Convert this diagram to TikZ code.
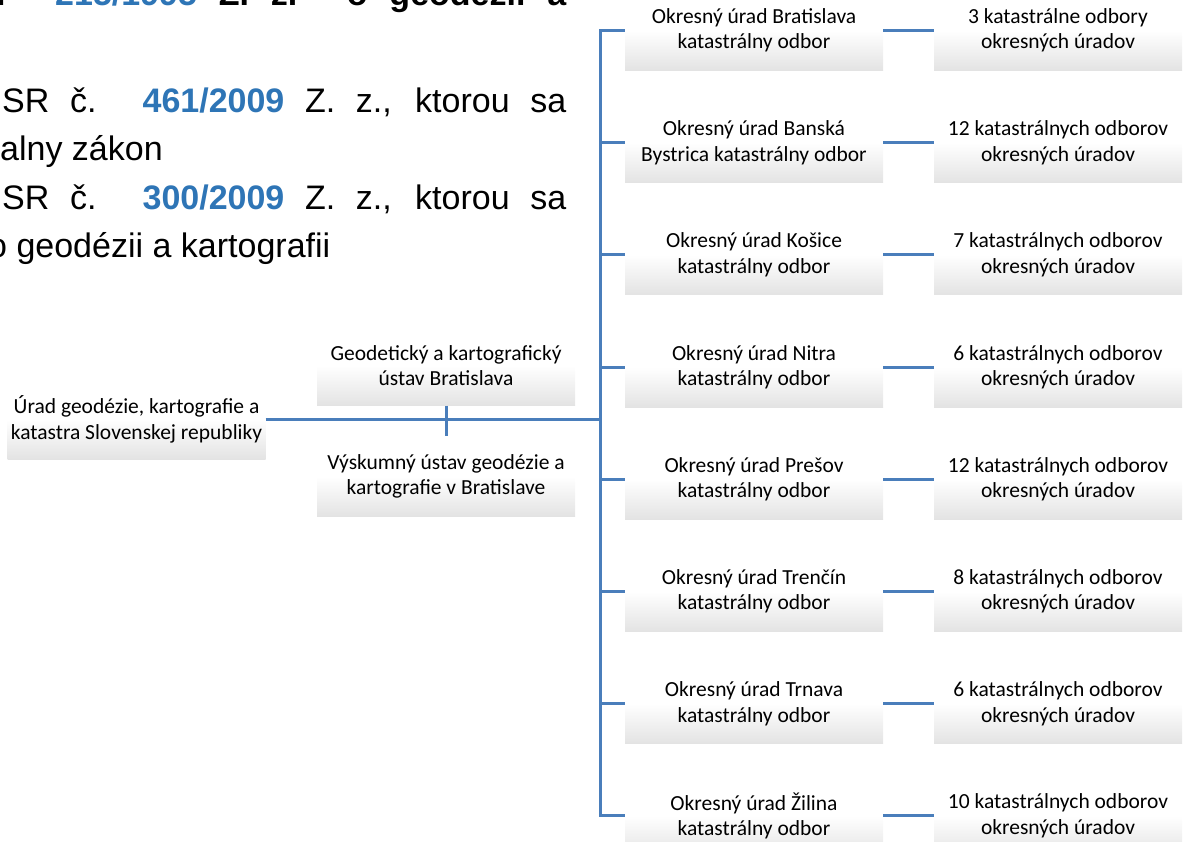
\documentclass[tikz,border=0pt]{standalone}
\usepackage{fontspec}
\setmainfont{Carlito}
\newfontfamily\lawfont{Liberation Sans}
\usepackage{tikz}
\usetikzlibrary{positioning}
\definecolor{linkblue}{RGB}{74,126,187}
\definecolor{numblue}{RGB}{46,117,182}
\newcommand{\lawnum}[1]{\textbf{\textcolor{numblue}{#1}}}

\begin{document}
\begin{tikzpicture}[x=1pt, y=-1pt]
  \tikzset{office/.style={minimum width=258pt, minimum height=80pt, inner sep=0pt, align=center,
      font=\fontsize{21.5}{25.5}\selectfont, top color=white, bottom color=gray!22, middle color=white},
    branch/.style={office, minimum width=248pt},
    link/.style={draw=linkblue, line width=3pt},
    law/.style={anchor=base west, inner sep=0pt, font=\lawfont\fontsize{34}{40}\selectfont}}

  \useasboundingbox (0,0) rectangle (1183,842);

  %--- text of the slide behind the chart ---
  \node[law, font=\lawfont\bfseries\fontsize{34}{40}\selectfont] (lawa) at (-23,6)
    {\makebox[589pt][s]{č. \lawnum{215/1995} Z. z. o geodézii a}};
  \node[law] (lawb) at (2,113) {\makebox[564pt][s]{SR č. \lawnum{461/2009} Z. z., ktorou sa}};
  \node[law] (lawc) at (0,161) {alny zákon};
  \node[law] (lawd) at (2,210) {\makebox[564pt][s]{SR č. \lawnum{300/2009} Z. z., ktorou sa}};
  \node[law] (lawe) at (-12,258) {o geodézii a kartografii};

  %--- head office and institutes ---
  \node[office] (ugkk) at (136.5,419.5) {Úrad geodézie, kartografie a\\katastra Slovenskej republiky};
  \node[office] (gku)  at (446,365.5)   {Geodetický a kartografický\\ústav Bratislava};
  \node[office] (vugk) at (446,476.5)   {Výskumný ústav geodézie a\\kartografie v Bratislave};

  %--- district offices ---
  \node[office] (ba) at (754,30.5)  {Okresný úrad Bratislava\\katastrálny odbor};
  \node[office] (bb) at (754,142.7) {Okresný úrad Banská\\Bystrica katastrálny odbor};
  \node[office] (ke) at (754,254.9) {Okresný úrad Košice\\katastrálny odbor};
  \node[office] (nr) at (754,367.1) {Okresný úrad Nitra\\katastrálny odbor};
  \node[office] (po) at (754,479.3) {Okresný úrad Prešov\\katastrálny odbor};
  \node[office] (tn) at (754,591.5) {Okresný úrad Trenčín\\katastrálny odbor};
  \node[office] (tt) at (754,703.7) {Okresný úrad Trnava\\katastrálny odbor};
  \node[office] (za) at (754,815.9) {Okresný úrad Žilina\\katastrálny odbor};

  %--- cadastral departments ---
  \node[branch] (kba) at (1058,30.5)  {3 katastrálne odbory\\okresných úradov};
  \node[branch] (kbb) at (1058,142.7) {12 katastrálnych odborov\\okresných úradov};
  \node[branch] (kke) at (1058,254.9) {7 katastrálnych odborov\\okresných úradov};
  \node[branch] (knr) at (1058,367.1) {6 katastrálnych odborov\\okresných úradov};
  \node[branch] (kpo) at (1058,479.3) {12 katastrálnych odborov\\okresných úradov};
  \node[branch] (ktn) at (1058,591.5) {8 katastrálnych odborov\\okresných úradov};
  \node[branch] (ktt) at (1058,703.7) {6 katastrálnych odborov\\okresných úradov};
  \node[branch] (kza) at (1058,815.9) {10 katastrálnych odborov\\okresných úradov};

  %--- links ---
  \coordinate (bus) at (600,419.5);
  \draw[link] (ugkk) -- (bus);
  \draw[link] (gku) -- (vugk);
  % bus to the district offices
  \draw[link] (ba.west) -- (ba.west -| bus) -- (za.west -| bus) -- (za.west);
  \draw[link] (bb.west) -- (bb.west -| bus);
  \draw[link] (ke.west) -- (ke.west -| bus);
  \draw[link] (nr.west) -- (nr.west -| bus);
  \draw[link] (po.west) -- (po.west -| bus);
  \draw[link] (tn.west) -- (tn.west -| bus);
  \draw[link] (tt.west) -- (tt.west -| bus);
  % offices to their departments
  \draw[link] (ba) -- (kba);
  \draw[link] (bb) -- (kbb);
  \draw[link] (ke) -- (kke);
  \draw[link] (nr) -- (knr);
  \draw[link] (po) -- (kpo);
  \draw[link] (tn) -- (ktn);
  \draw[link] (tt) -- (ktt);
  \draw[link] (za) -- (kza);
\end{tikzpicture}
\end{document}
